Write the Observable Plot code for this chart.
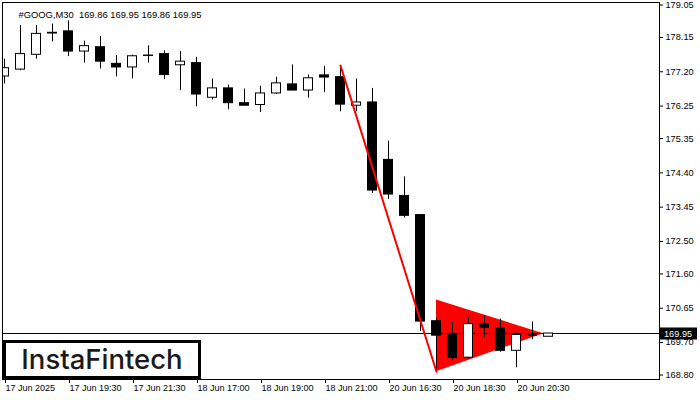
<!DOCTYPE html>
<html><head><meta charset="utf-8">
<script src="https://cdn.jsdelivr.net/npm/d3@7"></script>
<script src="https://cdn.jsdelivr.net/npm/@observablehq/plot@0.6"></script>
<style>
html,body{margin:0;padding:0;background:#fff;}
#chart{width:700px;height:400px;}
</style></head><body><div id="chart"></div>
<script>
const symbolTitle = "#GOOG,M30\u00a0\u00a0169.86 169.95 169.86 169.95";
const barIndex = [0,1,2,3,4,5,6,7,8,9,10,11,12,13,14,15,16,17,18,19,20,21,22,23,24,25,26,27,28,29,30,31,32,33,34];
const open  = [177.07,177.26,177.67,178.28,178.32,177.76,177.88,177.42,177.32,177.65,177.69,177.38,177.44,176.48,176.74,176.33,176.28,176.60,176.85,176.68,177.10,177.05,176.26,176.35,174.76,173.76,173.23,170.29,169.94,169.28,170.21,170.09,169.47,169.90,169.86];
const high  = [177.55,178.48,178.48,178.52,178.61,178.05,178.18,177.65,177.66,177.92,177.78,177.76,177.60,177.00,176.83,176.72,176.80,177.05,177.39,177.11,177.35,177.37,177.00,176.74,175.28,174.29,173.23,170.37,170.26,170.40,170.44,170.35,169.98,170.27,169.95];
const low   = [176.86,177.23,177.55,178.03,177.62,177.44,177.28,177.06,177.00,177.44,176.98,176.68,176.23,176.42,176.15,176.26,176.07,176.57,176.68,176.47,176.62,176.09,176.09,173.83,173.66,173.15,170.01,168.89,169.20,169.24,169.83,169.43,169.00,169.78,169.86];
const close = [177.30,177.69,178.25,178.26,177.76,177.91,177.48,177.32,177.63,177.64,177.11,177.48,176.57,176.74,176.33,176.26,176.60,176.88,176.68,177.02,177.04,176.29,176.35,173.91,173.80,173.21,170.28,169.89,169.27,170.21,170.11,169.47,169.91,169.89,169.95];
const yTicks = [179.05,178.15,177.20,176.25,175.35,174.40,173.45,172.50,171.60,170.65,169.70,168.80];
const xTickIndex = [0,4,8,12,16,20,24,28,32];
const xTickLabels = ["17 Jun 2025","17 Jun 19:30","17 Jun 21:30","18 Jun 17:00","18 Jun 19:00","18 Jun 21:00","20 Jun 16:30","20 Jun 18:30","20 Jun 20:30"];
const bidPrice = 169.95;
const poleIndex = [21, 27];
const polePrice = [177.37, 168.89];
const flagIndex = [27, 33.7];
const flagLow = [168.89, 169.94];
const flagHigh = [170.88, 169.94];
const brand = "InstaFintech";

const candles = barIndex.map((i,k)=>({i, o:open[k], h:high[k], l:low[k], c:close[k]}));
const pole = poleIndex.map((i,k)=>({i, p:polePrice[k]}));
const flag = flagIndex.map((i,k)=>({i, lo:flagLow[k], hi:flagHigh[k]}));

const FONT = "'Liberation Sans', Arial, sans-serif";

function priceLabel(index, scales, values, dim) {
  const y = Math.round(scales.y(bidPrice)) + 0.5;
  const x0 = dim.width - dim.marginRight + 1;
  const g = d3.create("svg:g");
  g.append("rect").attr("x", x0).attr("y", y - 6).attr("width", 37).attr("height", 12).attr("fill", "#000");
  g.append("text").attr("x", x0 + 4).attr("y", y).attr("dy", "0.36em").attr("text-anchor", "start")
    .attr("fill", "#fff").attr("font-size", 9.2).attr("font-family", FONT).text(bidPrice.toFixed(2));
  return g.node();
}
function brandBox(index, scales, values, dim) {
  const left = dim.marginLeft + 1;
  const bottom = dim.height - dim.marginBottom;
  const g = d3.create("svg:g");
  g.append("rect").attr("x", left + 1.5).attr("y", bottom - 37.5).attr("width", 195).attr("height", 36)
    .attr("fill", "#fff").attr("stroke", "#000").attr("stroke-width", 3);
  g.append("text").attr("x", left + 99).attr("y", bottom - 9.7).attr("text-anchor", "middle")
    .attr("font-family", "Inter, 'Noto Sans', sans-serif").attr("font-size", 27.5).attr("font-weight", 500)
    .attr("fill", "#1a1a1a").text(brand);
  return g.node();
}

const chart = Plot.plot({
  width: 700, height: 400,
  marginLeft: 2, marginRight: 41, marginTop: 2, marginBottom: 21,
  style: {fontFamily: FONT, fontSize: "9px", background: "#fff", color: "#000"},
  x: {type: "linear", domain: [-0.125, 40.9375], axis: null},
  y: {domain: [168.676, 179.119], axis: null},
  marks: [
    Plot.areaY(flag, {x: "i", y1: "lo", y2: "hi", fill: "#ff0000"}),
    Plot.ruleY([bidPrice], {stroke: "#000", strokeWidth: 1}),
    Plot.ruleX(candles, {x: "i", y1: "l", y2: "h", stroke: "#000", clip: true}),
    Plot.rect(candles, {x1: d => d.i - 0.5, x2: d => d.i + 0.5, y1: "o", y2: "c", insetLeft: 3.5, insetRight: 3.5,
      fill: d => d.c >= d.o ? "#fff" : "#000", stroke: "#000", clip: true}),
    Plot.line(pole, {x: "i", y: "p", stroke: "#ff0000", strokeWidth: 2}),
    Plot.frame({stroke: "#000"}),
    Plot.axisY(yTicks, {anchor: "right", label: null, tickSize: 3, tickPadding: 3, tickFormat: d => d.toFixed(2), fontSize: 9.2}),
    Plot.axisX(xTickIndex, {anchor: "bottom", label: null, tickSize: 4, tickPadding: 1, textAnchor: "start", dx: 1,
      tickFormat: d => xTickLabels[xTickIndex.indexOf(d)]}),
    Plot.text([symbolTitle], {frameAnchor: "top-left", dx: 16, dy: 9, textAnchor: "start", fontSize: 9.4}),
    priceLabel,
    brandBox
  ]
});
document.getElementById("chart").appendChild(chart);
</script>
</body></html>
